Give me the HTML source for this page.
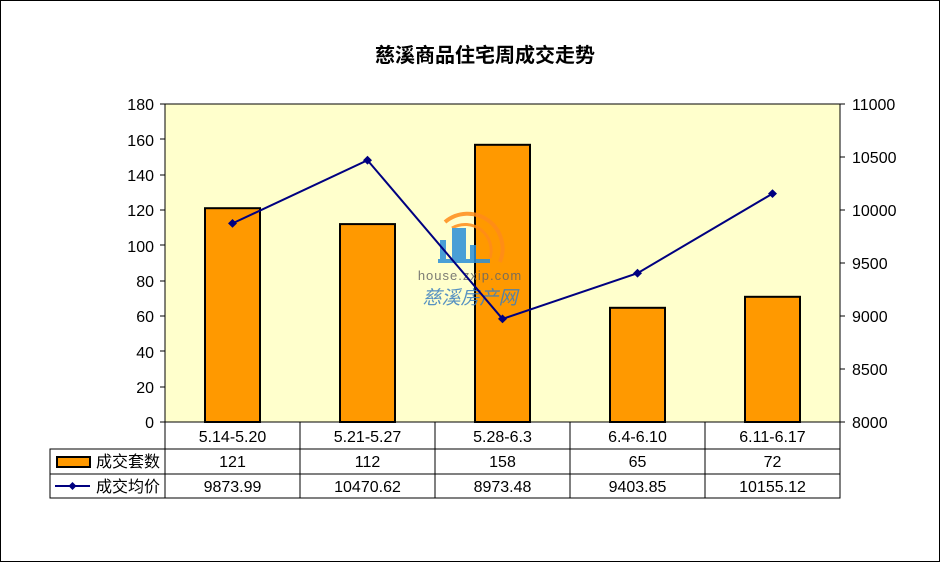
<!DOCTYPE html>
<html><head><meta charset="utf-8"><style>
body{margin:0;background:#fff}
svg{display:block}
text{font-family:"Liberation Sans","Noto Sans CJK SC",sans-serif;}
</style></head><body>
<svg width="940" height="562" viewBox="0 0 940 562" xmlns="http://www.w3.org/2000/svg">
<rect x="0.5" y="0.5" width="939" height="561" fill="#fff" stroke="#000"/>
<text x="485" y="62" text-anchor="middle" font-size="20" font-weight="bold">慈溪商品住宅周成交走势</text>
<rect x="165" y="104" width="675" height="318" fill="#ffffcc" stroke="#000"/>
<g font-size="16" text-anchor="end">
<text x="154" y="428">0</text><text x="154" y="393">20</text><text x="154" y="358">40</text>
<text x="154" y="322">60</text><text x="154" y="287">80</text><text x="154" y="252">100</text>
<text x="154" y="216">120</text><text x="154" y="181">140</text><text x="154" y="146">160</text>
<text x="154" y="110">180</text>
</g>
<g stroke="#000">
<line x1="160" y1="422" x2="165" y2="422"/><line x1="160" y1="387" x2="165" y2="387"/>
<line x1="160" y1="351" x2="165" y2="351"/><line x1="160" y1="316" x2="165" y2="316"/>
<line x1="160" y1="281" x2="165" y2="281"/><line x1="160" y1="245" x2="165" y2="245"/>
<line x1="160" y1="210" x2="165" y2="210"/><line x1="160" y1="175" x2="165" y2="175"/>
<line x1="160" y1="139" x2="165" y2="139"/><line x1="160" y1="104" x2="165" y2="104"/>
<line x1="840" y1="422" x2="845" y2="422"/><line x1="840" y1="369" x2="845" y2="369"/>
<line x1="840" y1="316" x2="845" y2="316"/><line x1="840" y1="263" x2="845" y2="263"/>
<line x1="840" y1="210" x2="845" y2="210"/><line x1="840" y1="157" x2="845" y2="157"/>
<line x1="840" y1="104" x2="845" y2="104"/>
</g>
<g font-size="16" text-anchor="start">
<text x="852" y="428">8000</text><text x="852" y="375">8500</text><text x="852" y="322">9000</text>
<text x="852" y="269">9500</text><text x="852" y="216">10000</text><text x="852" y="163">10500</text>
<text x="852" y="110">11000</text>
</g>
<g fill="#ff9900" stroke="#000" stroke-width="2">
<rect x="205" y="208.2" width="55" height="213.8"/>
<rect x="340" y="224.1" width="55" height="197.9"/>
<rect x="475" y="144.8" width="55" height="277.2"/>
<rect x="610" y="307.8" width="55" height="114.2"/>
<rect x="745" y="296.8" width="55" height="125.2"/>
</g>
<g opacity="0.85">
<path d="M445 222 A35 35 0 0 1 500 262" fill="none" stroke="#ff8c1a" stroke-width="4"/>
<path d="M452 228 A26 26 0 0 1 490 258" fill="none" stroke="#ff8c1a" stroke-width="3"/>
<rect x="440" y="240" width="6" height="20" fill="#2a8fd8"/>
<rect x="452" y="228" width="14" height="32" fill="#2a8fd8"/>
<rect x="470" y="245" width="6" height="15" fill="#2a8fd8"/>
<rect x="438" y="259" width="52" height="4" fill="#2a8fd8"/>
<text x="470" y="280" text-anchor="middle" font-size="13" fill="#666" letter-spacing="1">house.zxip.com</text>
<text x="470" y="304" text-anchor="middle" font-size="19" fill="#3a7fc0" font-style="italic" font-family="'Noto Serif CJK SC',serif">慈溪房产网</text>
</g>
<polyline points="232.5,223.4 367.5,160.2 502.5,318.9 637.5,273.2 772.5,193.6" fill="none" stroke="#000080" stroke-width="2"/>
<g fill="#000080">
<path d="M232.5 219l4.5 4.4-4.5 4.4-4.5-4.4z"/>
<path d="M367.5 155.8l4.5 4.4-4.5 4.4-4.5-4.4z"/>
<path d="M502.5 314.5l4.5 4.4-4.5 4.4-4.5-4.4z"/>
<path d="M637.5 268.8l4.5 4.4-4.5 4.4-4.5-4.4z"/>
<path d="M772.5 189.2l4.5 4.4-4.5 4.4-4.5-4.4z"/>
</g>
<g stroke="#000" fill="none">
<line x1="165" y1="449" x2="840" y2="449"/>
<rect x="50" y="449" width="790" height="49"/>
<line x1="50" y1="474" x2="840" y2="474"/>
<line x1="165" y1="422" x2="165" y2="498"/>
<line x1="840" y1="422" x2="840" y2="498"/>
<line x1="300" y1="422" x2="300" y2="498"/>
<line x1="435" y1="422" x2="435" y2="498"/>
<line x1="570" y1="422" x2="570" y2="498"/>
<line x1="705" y1="422" x2="705" y2="498"/>
</g>
<g font-size="16" text-anchor="middle">
<text x="232.5" y="442">5.14-5.20</text><text x="367.5" y="442">5.21-5.27</text><text x="502.5" y="442">5.28-6.3</text><text x="637.5" y="442">6.4-6.10</text><text x="772.5" y="442">6.11-6.17</text>
<text x="232.5" y="467">121</text><text x="367.5" y="467">112</text><text x="502.5" y="467">158</text><text x="637.5" y="467">65</text><text x="772.5" y="467">72</text>
<text x="232.5" y="492">9873.99</text><text x="367.5" y="492">10470.62</text><text x="502.5" y="492">8973.48</text><text x="637.5" y="492">9403.85</text><text x="772.5" y="492">10155.12</text>
</g>
<rect x="57" y="457" width="33" height="10" fill="#ff9900" stroke="#000" stroke-width="2"/>
<line x1="55" y1="486" x2="90" y2="486" stroke="#000080" stroke-width="2"/>
<path d="M72.5 482l4 4-4 4-4-4z" fill="#000080"/>
<g font-size="16"><text x="96" y="467">成交套数</text><text x="96" y="492">成交均价</text></g>
</svg>
</body></html>
